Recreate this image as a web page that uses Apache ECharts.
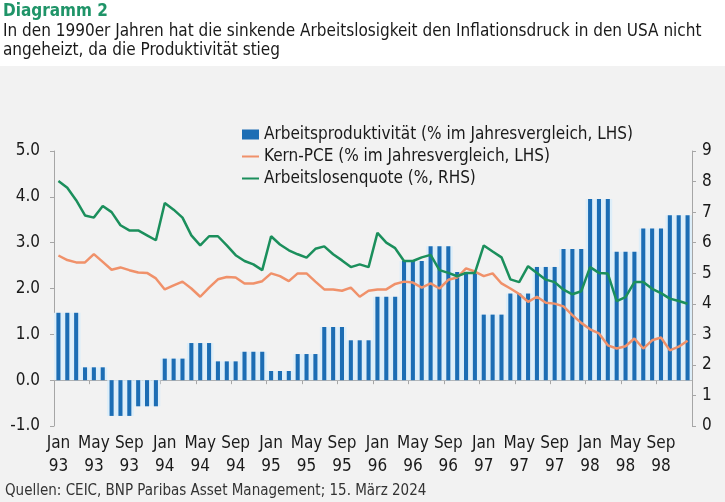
<!DOCTYPE html>
<html>
<head>
<meta charset="utf-8">
<script src="https://cdn.jsdelivr.net/npm/echarts@6/dist/echarts.min.js"></script>
<style>
  html, body { margin: 0; padding: 0; }
  #chart { width: 725px; height: 502px; background: linear-gradient(#ffffff 0px, #ffffff 66px, #f2f2f2 66px); }
</style>
</head>
<body>
<div id="chart"></div>
<script>
var FONT = '"DejaVu Sans Condensed", "Liberation Sans Narrow", sans-serif';

// Monate Jan 93 - Dez 98
var years = ['93', '94', '95', '96', '97', '98'];
var monthNames = ['Jan', 'Feb', 'Mar', 'Apr', 'May', 'Jun', 'Jul', 'Aug', 'Sep', 'Oct', 'Nov', 'Dec'];

// Arbeitsproduktivitaet, quartalsweise (% J/J, LHS)
var productivityQ = [1.47, 0.28, -0.78, -0.57, 0.47, 0.81, 0.41, 0.62, 0.20, 0.57, 1.16, 0.87,
                     1.82, 2.60, 2.92, 2.36, 1.43, 1.89, 2.47, 2.86, 3.95, 2.80, 3.31, 3.60];

// Kern-PCE, monatlich (% J/J, LHS)
var corePce = [2.72, 2.62, 2.57, 2.57, 2.75, 2.58, 2.41, 2.46, 2.40, 2.35, 2.34, 2.22,
               1.98, 2.07, 2.15, 2.00, 1.82, 2.02, 2.20, 2.25, 2.24, 2.11, 2.11, 2.16,
               2.33, 2.27, 2.16, 2.33, 2.33, 2.15, 1.98, 1.98, 1.95, 2.02, 1.82, 1.95,
               1.98, 1.98, 2.10, 2.15, 2.13, 2.02, 2.11, 2.00, 2.19, 2.24, 2.44, 2.37,
               2.27, 2.33, 2.11, 2.00, 1.88, 1.71, 1.82, 1.69, 1.67, 1.61, 1.42, 1.25,
               1.11, 1.02, 0.76, 0.69, 0.74, 0.91, 0.69, 0.87, 0.93, 0.65, 0.73, 0.86];

// Arbeitslosenquote, monatlich (%, RHS)
var unemployment = [8.02, 7.80, 7.39, 6.89, 6.82, 7.20, 7.00, 6.57, 6.40, 6.40, 6.24, 6.08,
                    7.30, 7.08, 6.82, 6.24, 5.91, 6.21, 6.21, 5.91, 5.59, 5.40, 5.29, 5.10,
                    6.21, 5.94, 5.75, 5.62, 5.51, 5.80, 5.88, 5.62, 5.42, 5.20, 5.29, 5.20,
                    6.32, 6.00, 5.82, 5.40, 5.40, 5.52, 5.60, 5.10, 5.01, 4.90, 5.01, 5.01,
                    5.91, 5.71, 5.52, 4.80, 4.71, 5.23, 5.01, 4.79, 4.71, 4.46, 4.31, 4.41,
                    5.20, 5.01, 4.99, 4.09, 4.22, 4.71, 4.71, 4.49, 4.35, 4.17, 4.09, 4.00];

var categories = [];
years.forEach(function (y) {
    monthNames.forEach(function (m) { categories.push(m + '\n' + y); });
});
// jeder Monat bekommt den Wert seines Quartals
var productivity = categories.map(function (c, i) { return productivityQ[Math.floor(i / 3)]; });

var axisGray = '#a6a6a6';
var textColor = '#1a1a1a';

var myChart = echarts.init(document.getElementById('chart'));
var option = {
    backgroundColor: 'transparent',
    animation: false,
    textStyle: { fontFamily: FONT },
    title: [{
        text: 'Diagramm 2',
        left: 3, top: 3, padding: 0,
        textStyle: { fontFamily: FONT, fontSize: 17, fontWeight: 'bold', color: '#1f9468' }
    }, {
        text: 'In den 1990er Jahren hat die sinkende Arbeitslosigkeit den Inflationsdruck in den USA nicht\nangeheizt, da die Produktivität stieg',
        left: 3, top: 22, padding: 0,
        textStyle: { fontFamily: FONT, fontSize: 17, fontWeight: 'normal', color: textColor, lineHeight: 19 }
    }, {
        text: 'Quellen: CEIC, BNP Paribas Asset Management; 15. März 2024',
        left: 5, top: 484, padding: 0,
        textStyle: { fontFamily: FONT, fontSize: 15, fontWeight: 'normal', color: '#333333' }
    }],
    legend: {
        orient: 'vertical',
        left: 241, top: 126, padding: 0,
        itemWidth: 17, itemHeight: 10, itemGap: 5,
        textStyle: { fontFamily: FONT, fontSize: 17, color: textColor },
        data: [
            { name: 'Arbeitsproduktivität (% im Jahresvergleich, LHS)', icon: 'rect' },
            { name: 'Kern-PCE (% im Jahresvergleich, LHS)', itemStyle: { opacity: 0 } },
            { name: 'Arbeitslosenquote (%, RHS)', itemStyle: { opacity: 0 } }
        ]
    },
    grid: { left: 54, right: 33, top: 151, bottom: 76 },
    xAxis: [{
        type: 'category',
        data: categories,
        position: 'bottom',
        axisLine: { show: false, onZero: false },
        axisTick: { show: false },
        axisLabel: {
            interval: 3, margin: 6, color: textColor, fontFamily: FONT, fontSize: 17, lineHeight: 23
        }
    }, {
        type: 'category',
        data: categories,
        position: 'bottom',
        axisLine: { show: true, onZero: true, onZeroAxisIndex: 0, lineStyle: { color: axisGray, width: 1 } },
        axisTick: { show: true, length: 4, lineStyle: { color: axisGray } },
        axisLabel: { show: false }
    }],
    yAxis: [{
        type: 'value',
        min: -1, max: 5, interval: 1,
        axisLine: { show: true, lineStyle: { color: axisGray } },
        axisTick: { show: true, length: 4, lineStyle: { color: axisGray } },
        splitLine: { show: false },
        axisLabel: {
            margin: 14, color: textColor, fontFamily: FONT, fontSize: 17,
            formatter: function (v) { return v.toFixed(1); }
        }
    }, {
        type: 'value',
        min: 0, max: 9, interval: 1,
        position: 'right',
        axisLine: { show: true, lineStyle: { color: axisGray } },
        axisTick: { show: true, length: 4, lineStyle: { color: axisGray } },
        splitLine: { show: false },
        axisLabel: { margin: 10, color: textColor, fontFamily: FONT, fontSize: 17 }
    }],
    series: [{
        // heller Hintergrund der Balken
        name: 'bg',
        type: 'bar',
        xAxisIndex: 1,
        yAxisIndex: 0,
        barWidth: '100%',
        silent: true,
        itemStyle: { color: '#ddeef9' },
        data: productivity,
        z: 1
    }, {
        name: 'Arbeitsproduktivität (% im Jahresvergleich, LHS)',
        type: 'bar',
        xAxisIndex: 0,
        yAxisIndex: 0,
        barWidth: '46%',
        itemStyle: { color: '#1c6db4' },
        data: productivity,
        z: 2
    }, {
        name: 'Kern-PCE (% im Jahresvergleich, LHS)',
        type: 'line',
        xAxisIndex: 0,
        yAxisIndex: 0,
        symbol: 'none',
        lineStyle: { color: '#f0916a', width: 2.5 },
        itemStyle: { color: '#f0916a' },
        data: corePce,
        z: 3
    }, {
        name: 'Arbeitslosenquote (%, RHS)',
        type: 'line',
        xAxisIndex: 0,
        yAxisIndex: 1,
        symbol: 'none',
        lineStyle: { color: '#1b8f5c', width: 2.5 },
        itemStyle: { color: '#1b8f5c' },
        data: unemployment,
        z: 4
    }]
};
myChart.setOption(option);
</script>
</body>
</html>
